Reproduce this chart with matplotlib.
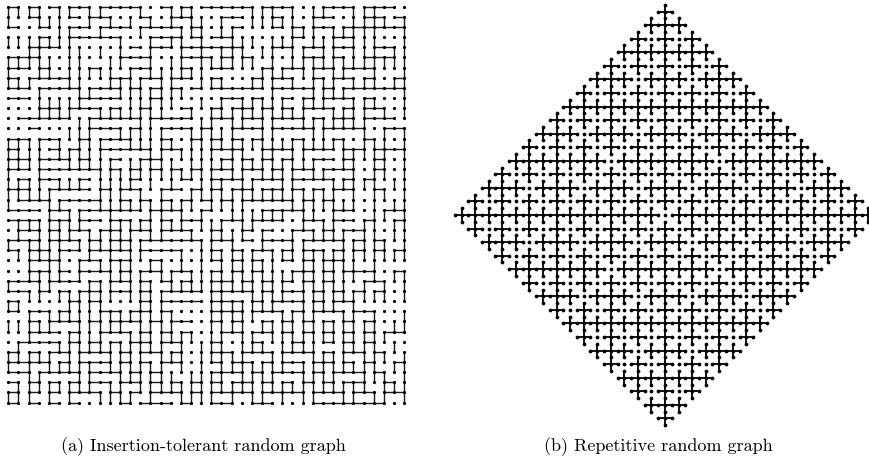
import matplotlib

matplotlib.use("Agg")
import matplotlib.pyplot as plt
from matplotlib.collections import LineCollection

# (a) insertion-tolerant random graph on a 40 x 40 grid.
# One string per grid row, one char per vertex:
# '-' edge to the right, '|' edge down, '+' both, '.' none
grid_rows = [
    "+|+|-|+-|+---|.-|+|-" "----|++-|.|+--|++-..",
    "|.-|||-.+-|.|-|.+-||" ".+-.||+||.+-..|++|-|",
    "-..-.|+-.+--.+---|+|" ".|+...-.+|+-|++++--|",
    "|||+||+----|..+-+|-|" "--|||.||+.||+-|||..|",
    "..++-.||.|.|-.+-.+-+" "-++|.|+-|+-|+-||+-||",
    "+++||.||..|+--|.|+-+" "|+|+|.|.|++|+||+++||",
    "+-.+|.||+||.+-|||+||" "--...+|+-|+-|+--|..|",
    "+|+---||..++|+-|+-.|" "+|..+|+-|.+|+-|+|.+|",
    "--.+---|+--|+|+|+|-." "-----.+---|+|+-----|",
    "--.||||+---.||+||..|" ".+-|+||+.+|+--|+|..|",
    "...++|+--|+||+||.-|." "+|++|+|+|+--|+|+-|.|",
    ".-----.|+----|+---.|" "+-|+-|+--|+|++|+--..",
    "..-...||+--|+||+--|+" "||+--|+---|+---|.+-|",
    "++|+-|.+|+--|||+|.+|" "+|+|+|||+|||+|.+||.|",
    "+|||-|+||+----|+-|||" "+-+|.++-|+--.++|++-|",
    "++|+--|+||+.|++||.||" "|+|+|+|+||+-.+|.+|.|",
    "+-.+-----|+|+|+|+|+|" "+-|+-|+|+-|+--|.+|.|",
    "|+|+-||+.|||+.|.|-.|" "++-|+--|+---|+|+|.||",
    "++||+---.+|+-|.+-.+|" "+|++|++|+|+|+-|.+|.|",
    "|---|+---||+|+|+|+|-" "|+|+----|+|+|||.|.||",
    "---.+-|+--+--.++-|.+" "..|||+++-||.+-..|+-|",
    "-++|++|+-.++|+|+|+-|" "|+-|+--..+-|+-.+|.+|",
    ".+-|+|+-|++|+-|+--|." "+||+.+..+-|+|+-||.||",
    "+-+|++-|+|++|+-----|" "+-|-.+--|+---|+|+|.|",
    "-|++|+-.+-+-|+---|.|" "+|+|+-|+|++|+|+|+|+|",
    "..+-+|.+-|++|.+|.|.|" "-|+|+||-.+|++||.|...",
    "..++|+.+--|+|+-|+-||" "+|+|+|||++|+|++-|.+|",
    "+--|+--.+|+-|+|-|+||" "++|+|+|+.+|+||.+-|.|",
    "--|+.+|++|+-|+|+---." "++--|+|+-|+|+|+|+|.|",
    "+|....+|+|...+|+---." "+++|+|+--|+|+-|.....",
    "-.+-|+|||++|++|+|..." "+++|+--|+|+--|+-|..|",
    "||+|+--|+|++-|+|+-.." "+|+|.+|+|+|+|+|+|.||",
    "..+--.+||+--|+|+|+|." "|+-|+-|+|+|+|+|+|+-.",
    ".+---|+|+|+|++|+-|.|" "+|.|+|.|+||-.+|+|.|.",
    "+|+|+-|+--|+|+-|+|.|" "++|+--|+--|+|+-|+|.|",
    "+-+-|+|++-|+|+|+-|.|" "-|++|+|+-|++|+|+|.+|",
    "--|+---|+--|+|+||.||" "++-|+|+--|+|+--|+|.|",
    "-|+|+|+|+-|+-|+|+|+|" "+|++|+|+|+|+|++|.+||",
    "+|+.+.+--|+|+.+--|+|" "+-+-|+-+-|+--|+-|+-|",
    "-.-.-.-....-.---.-.." "--..--....-------...",
]

# (b) repetitive random graph on the diamond |x| + |y| <= 31.
# Level of each row (and, by symmetry, each column), read top to bottom
row_levels = [0, 1, 0, 2, 0, 1, 0, 3, 0, 1, 0, 2, 0, 1, 0, 4,
              0, 1, 0, 2, 0, 1, 0, 3, 0, 1, 0, 2, 0, 1, 0, 5,
              0, 1, 0, 2, 0, 1, 0, 3, 0, 1, 0, 2, 0, 1, 0, 4,
              0, 1, 0, 2, 0, 1, 0, 3, 0, 1, 0, 2, 0, 1, 0]
col_levels = row_levels
# which of the 62 steps along a row / column carry an edge, per level
level_edges = [
    "." * 62,
    "..--" * 15 + "..",
    "--.." + "------.." * 7 + "--",
    "------.." + "--------------.." * 3 + "------",
    "-" * 14 + ".." + "-" * 30 + ".." + "-" * 14,
    "-" * 30 + ".." + "-" * 30,
]

captions = ["(a) Insertion-tolerant random graph", "(b) Repetitive random graph"]

W, H = 870, 465
fig = plt.figure(figsize=(W / 100, H / 100), dpi=100)
fig.patch.set_facecolor("white")

# ---- left panel
n = len(grid_rows)
step = 10.15
x0, y0 = 8.3, 6.7
axl = fig.add_axes([0, 1 - 412 / H, 414 / W, 412 / H])
axl.set_xlim(-x0 / step, (414 - x0) / step)
axl.set_ylim((412 - y0) / step, -y0 / step)
axl.axis("off")

segs = []
for r, row in enumerate(grid_rows):
    row = row.ljust(n, ".")[:n]
    for c, ch in enumerate(row):
        if ch in "-+" and c + 1 < n:
            segs.append([(c, r), (c + 1, r)])
        if ch in "|+" and r + 1 < n:
            segs.append([(c, r), (c, r + 1)])
axl.add_collection(LineCollection(segs, colors="#1a1a1a", linewidths=1.0))
xs = [c for r in range(n) for c in range(n)]
ys = [r for r in range(n) for c in range(n)]
axl.plot(xs, ys, "o", color="black", ms=2.3, mew=0)

# ---- right panel
N = 31
dstep = 6.78
cx, cy = 665, 215
axr = fig.add_axes([440 / W, 1 - 436 / H, 430 / W, 436 / H])
axr.set_xlim((440 - cx) / dstep, (870 - cx) / dstep)
axr.set_ylim((436 - cy) / dstep, (0 - cy) / dstep)
axr.axis("off")


def inside(c, r):
    return abs(c - N) + abs(r - N) <= N


dsegs = []
for r, k in enumerate(row_levels):
    for i, e in enumerate(level_edges[k]):
        if e == "-" and inside(i, r) and inside(i + 1, r):
            dsegs.append([(i - N, r - N), (i + 1 - N, r - N)])
for c, k in enumerate(col_levels):
    for i, e in enumerate(level_edges[k]):
        if e == "-" and inside(c, i) and inside(c, i + 1):
            dsegs.append([(c - N, i - N), (c - N, i + 1 - N)])
axr.add_collection(LineCollection(dsegs, colors="black", linewidths=1.3))
# vertices of level 0 in both directions are not part of the picture
pts = [(c - N, r - N) for r in range(2 * N + 1) for c in range(2 * N + 1)
       if inside(c, r) and (row_levels[r] > 0 or col_levels[c] > 0)]
axr.plot([p[0] for p in pts], [p[1] for p in pts], "o", color="black", ms=2.7, mew=0)

# ---- captions
fig.text(203 / W, 1 - 447 / H, captions[0], ha="center", va="center",
         family="cmr10", fontsize=13)
fig.text(658 / W, 1 - 447 / H, captions[1], ha="center", va="center",
         family="cmr10", fontsize=13)

fig.savefig("out.png", dpi=100, facecolor="white")
